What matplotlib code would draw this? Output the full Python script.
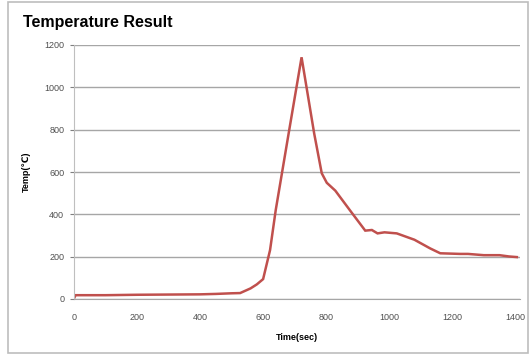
import matplotlib
matplotlib.use('Agg')
import matplotlib.pyplot as plt
from matplotlib.patches import Rectangle

# 数据: 时间 (sec) 与 温度 (℃)
time_sec = [0, 5, 100, 200, 300, 400, 450, 500, 527, 560, 580, 600, 622,
            640, 683, 722, 762, 786, 802, 829, 880, 924, 945, 963, 985,
            1024, 1080, 1130, 1162, 1225, 1250, 1300, 1350, 1380, 1405]
temp_c = [3, 18, 18, 20, 21, 22, 24, 27, 28, 50, 69, 94, 231,
          420, 800, 1142, 782, 594, 549, 512, 410, 323, 326, 310, 315,
          310, 280, 239, 216, 213, 213, 207, 207, 201, 198]

x_ticks = [0, 200, 400, 600, 800, 1000, 1200, 1400]
y_ticks = [0, 200, 400, 600, 800, 1000, 1200]

plt.rcParams['font.family'] = ['Liberation Sans', 'DejaVu Sans', 'Noto Sans CJK SC']

fig = plt.figure(figsize=(5.31, 3.55), dpi=100)
ax = fig.add_axes([74 / 531, 1 - 299 / 355, 446 / 531, 254 / 355])

# 外边框
fig.patches.append(Rectangle((8 / 531, 2 / 355), 520 / 531, 351 / 355,
                             transform=fig.transFigure, fill=False,
                             edgecolor='#bdbdbd', linewidth=1.2))

ax.plot(time_sec, temp_c, color='#c0504d', linewidth=1.8, solid_joinstyle='miter')

ax.set_xlim(0, 1415)
ax.set_ylim(0, 1200)
ax.set_xticks(x_ticks)
ax.set_yticks(y_ticks)
ax.tick_params(axis='both', labelsize=6.5, colors='#7f7f7f', labelcolor='#505050')
ax.tick_params(axis='x', length=0, pad=10)
ax.tick_params(axis='y', length=3, pad=4)
ax.grid(True, axis='y', color='#a6a6a6', linewidth=1.0)
ax.set_axisbelow(True)
for side in ['top', 'right']:
    ax.spines[side].set_visible(False)
ax.spines['left'].set_color('#bfbfbf')
ax.spines['bottom'].set_color('#a6a6a6')

ax.set_xlabel('Time(sec)', fontsize=6.5, fontweight='bold', labelpad=8)
ax.set_ylabel('Temp(℃)', fontsize=6.5, fontweight='bold', labelpad=10)

fig.text(23 / 531, 1 - 22 / 355, 'Temperature Result', fontsize=11.5,
         fontweight='bold', va='center', ha='left')

plt.savefig('out.png', dpi=100)
